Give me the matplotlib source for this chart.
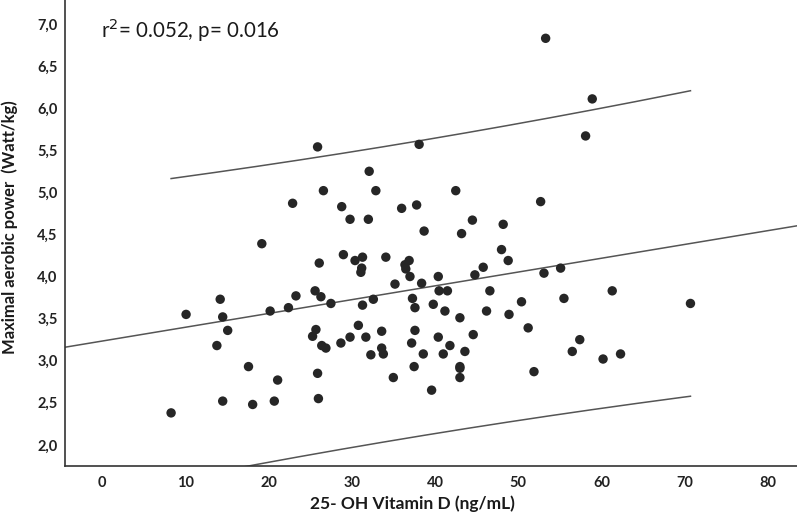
import numpy as np
import matplotlib
matplotlib.use("Agg")
import matplotlib.pyplot as plt

plt.rcParams['font.family'] = ['Lato', 'DejaVu Sans']

# 25-OH Vitamin D (ng/mL)
vitd = [25.9, 38.1, 32.1, 26.6, 32.9, 22.9, 28.8, 36.0, 37.8, 29.8,
        32.0, 38.7, 19.2, 53.3, 58.9, 58.1, 42.5, 52.7, 44.5, 48.2,
        43.2, 48.0, 29.0, 30.4, 31.3, 26.1, 34.1, 36.9, 36.4, 36.5,
        31.2, 31.1, 37.0, 35.2, 38.4, 14.2, 10.1, 14.5, 20.2, 22.4,
        23.3, 25.6, 26.3, 27.5, 31.3, 32.6, 37.3, 37.6, 39.8, 15.1,
        13.8, 25.7, 25.3, 30.8, 33.6, 37.6, 26.4, 26.9, 28.7, 29.8,
        31.7, 37.2, 33.6, 33.8, 32.3, 38.6, 17.6, 37.5, 21.1, 25.9,
        35.0, 39.6, 14.5, 18.1, 20.7, 26.0, 8.3, 48.8, 45.8, 44.8,
        55.1, 53.1, 40.4, 40.5, 41.5, 46.6, 61.3, 70.7, 55.5, 50.4,
        41.2, 43.0, 46.2, 48.9, 51.2, 44.6, 40.4, 41.8, 57.4, 56.5,
        41.0, 43.6, 62.3, 60.2, 43.0, 43.0, 43.0, 51.9]

# Maximal aerobic power (Watt/kg)
power = [5.54, 5.57, 5.25, 5.02, 5.02, 4.87, 4.83, 4.81, 4.85, 4.68,
         4.68, 4.54, 4.39, 6.83, 6.11, 5.67, 5.02, 4.89, 4.67, 4.62,
         4.51, 4.32, 4.26, 4.19, 4.23, 4.16, 4.23, 4.19, 4.14, 4.09,
         4.10, 4.05, 4.00, 3.91, 3.92, 3.73, 3.55, 3.52, 3.59, 3.63,
         3.77, 3.83, 3.76, 3.68, 3.66, 3.73, 3.74, 3.63, 3.67, 3.36,
         3.18, 3.37, 3.29, 3.42, 3.35, 3.36, 3.18, 3.15, 3.21, 3.28,
         3.28, 3.21, 3.15, 3.08, 3.07, 3.08, 2.93, 2.93, 2.77, 2.85,
         2.80, 2.65, 2.52, 2.48, 2.52, 2.55, 2.38, 4.19, 4.11, 4.02,
         4.10, 4.04, 4.00, 3.83, 3.83, 3.83, 3.83, 3.68, 3.74, 3.70,
         3.59, 3.51, 3.59, 3.55, 3.39, 3.31, 3.28, 3.18, 3.25, 3.11,
         3.08, 3.11, 3.08, 3.02, 2.93, 2.91, 2.80, 2.87]

# Reported regression (as drawn in the reference)
reg_intercept = 3.233
reg_slope = 0.0164
reg_resid_se = 0.88
t_crit = 1.984

x_ticks = [0, 10, 20, 30, 40, 50, 60, 70, 80]
y_ticks = [2.0, 2.5, 3.0, 3.5, 4.0, 4.5, 5.0, 5.5, 6.0, 6.5, 7.0]
annotation = "r$^2$= 0.052, p= 0.016"

x = np.array(vitd)
y = np.array(power)
n = len(x)
xm = x.mean()
sxx = np.sum((x - xm) ** 2)

fig = plt.figure(figsize=(7.97, 5.2), dpi=100)
ax = fig.add_axes([0.081, 0.104, 0.919, 0.896])

xlim = (-4.5, 83.5)
ylim = (1.75, 7.285)
ax.set_xlim(*xlim)
ax.set_ylim(*ylim)

xl = np.linspace(xlim[0], xlim[1], 200)
ax.plot(xl, reg_intercept + reg_slope * xl, color='#555555', lw=1.1, zorder=2)

xp = np.linspace(x.min(), x.max(), 200)
yp = reg_intercept + reg_slope * xp
half = t_crit * reg_resid_se * np.sqrt(1 + 1 / n + (xp - xm) ** 2 / sxx)
ax.plot(xp, yp + half, color='#555555', lw=1.1, zorder=2)
ax.plot(xp, yp - half, color='#555555', lw=1.1, zorder=2)

ax.scatter(x, y, s=46, color='#262626', edgecolors='none', zorder=3)

ax.set_xticks(x_ticks)
ax.set_xticklabels([str(v) for v in x_ticks])
ax.set_yticks(y_ticks)
ax.set_yticklabels([f"{v:.1f}".replace('.', ',') for v in y_ticks])
ax.tick_params(axis='both', length=0, labelsize=10.5, colors='#222222')
ax.tick_params(axis='x', pad=7)
ax.tick_params(axis='y', pad=5)
for lab in ax.get_xticklabels() + ax.get_yticklabels():
    lab.set_fontweight('bold')

for side in ['top', 'right']:
    ax.spines[side].set_visible(False)
for side in ['left', 'bottom']:
    ax.spines[side].set_color('#333333')
    ax.spines[side].set_linewidth(1.2)

ax.set_xlabel("25- OH Vitamin D (ng/mL)", fontsize=12.5, fontweight='bold', color='#1a1a1a')
ax.xaxis.set_label_coords(0.475, -0.064)
ax.set_ylabel("Maximal aerobic power  (Watt/kg)", fontsize=12, fontweight='bold', color='#1a1a1a')
ax.yaxis.set_label_coords(-0.064, 0.513)

ax.text(0.05, 0.936, annotation, transform=ax.transAxes, fontsize=14.8,
        ha='left', va='center', color='#1a1a1a')

fig.savefig("out.png", dpi=100)
